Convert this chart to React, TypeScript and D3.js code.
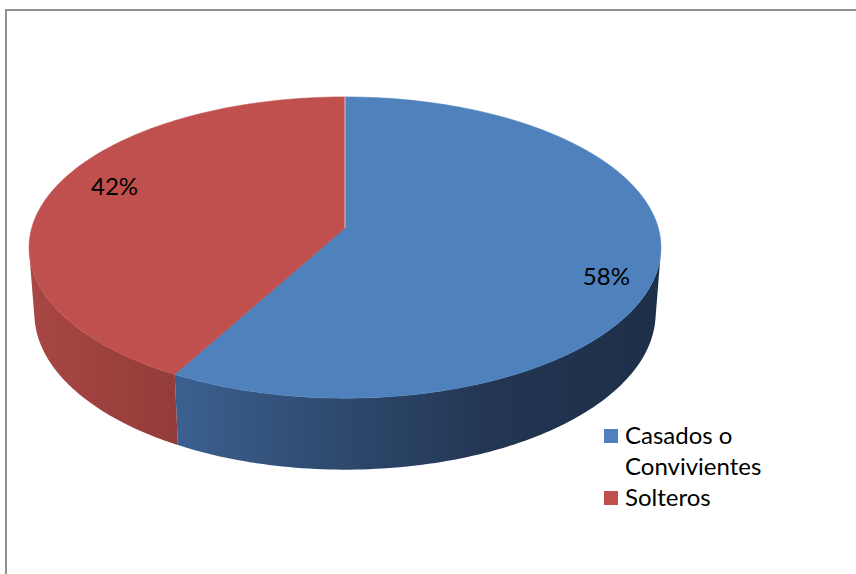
import React, { useRef, useEffect } from "react";
import * as d3 from "d3";

const categories = ["Casados o Convivientes", "Solteros"];
const values = [58, 42];
const labels = ["58%", "42%"];
const legendLines = [["Casados o", "Convivientes"], ["Solteros"]];

const topColors = ["#4F81BD", "#C0504D"];
// side shading stops (screen x -> colour), Excel-like dark rim
const sideStops = [
  [[176, "#3B6090"], [350, "#2D486C"], [500, "#223551"], [661, "#1E2F48"]],
  [[29, "#A84744"], [176, "#933C39"]],
];

const App = () => {
  const svgRef = useRef<SVGSVGElement>(null);

  useEffect(() => {
    const svg = d3.select(svgRef.current);
    svg.selectAll("*").remove();

    const width = 856;
    const height = 574;
    svg.attr("width", width).attr("height", height);

    // perspective camera for the tilted disc
    const cx = 345, cy = 228;
    const F = 2127, D = 6.79;
    const tilt = Math.asin(0.4727);
    const s = Math.sin(tilt), c = Math.cos(tilt);
    const H = 0.24;

    const project = (u: number, v: number, h: number): [number, number] => {
      const yc = h * c + v * s;
      const zc = D + v * c - h * s;
      return [cx + (F * u) / zc, cy - (F * yc) / zc];
    };
    const rim = (a: number, h: number, r = 1) => project(r * Math.sin(a), r * Math.cos(a), h);

    const pie = d3.pie<number>().sort(null).startAngle(0).endAngle(2 * Math.PI);
    const arcs = pie(values);

    const defs = svg.append("defs");
    sideStops.forEach((stops, i) => {
      const g = defs.append("linearGradient")
        .attr("id", `side${i}`)
        .attr("gradientUnits", "userSpaceOnUse")
        .attr("x1", stops[0][0]).attr("y1", 0)
        .attr("x2", stops[stops.length - 1][0]).attr("y2", 0);
      const x0 = stops[0][0] as number;
      const x1 = stops[stops.length - 1][0] as number;
      stops.forEach(([x, col]) => {
        g.append("stop")
          .attr("offset", ((x as number) - x0) / (x1 - x0))
          .attr("stop-color", col as string);
      });
    });

    const line = d3.line();

    // visible part of the rim: outward normal facing the camera
    const limit = Math.acos(-1 / (D * c));
    const visLo = limit, visHi = 2 * Math.PI - limit;

    const sides = arcs
      .map((d, i) => ({ i, a0: Math.max(d.startAngle, visLo), a1: Math.min(d.endAngle, visHi) }))
      .filter((d) => d.a1 > d.a0);

    svg.append("g")
      .selectAll("path")
      .data(sides)
      .enter()
      .append("path")
      .attr("d", (d) => {
        const n = 100;
        const topPts: [number, number][] = [];
        const botPts: [number, number][] = [];
        for (let k = 0; k <= n; k++) {
          const a = d.a0 + ((d.a1 - d.a0) * k) / n;
          topPts.push(rim(a, 0));
          botPts.push(rim(a, -H));
        }
        return line(topPts.concat(botPts.reverse())) + "Z";
      })
      .attr("fill", (d) => `url(#side${d.i})`);

    // top faces
    svg.append("g")
      .selectAll("path")
      .data(arcs)
      .enter()
      .append("path")
      .attr("d", (d) => {
        const pts: [number, number][] = [project(0, 0, 0)];
        const n = 120;
        for (let k = 0; k <= n; k++) {
          pts.push(rim(d.startAngle + ((d.endAngle - d.startAngle) * k) / n, 0));
        }
        return line(pts) + "Z";
      })
      .attr("fill", (d, i) => topColors[i])
      .attr("stroke", (d, i) => topColors[i])
      .attr("stroke-width", 0.6);

    // separating edge from the apex to the back
    const back = rim(0, 0);
    const apex = project(0, 0, 0);
    svg.append("line")
      .attr("x1", apex[0]).attr("y1", apex[1])
      .attr("x2", back[0]).attr("y2", back[1])
      .attr("stroke", "#d9e2ee")
      .attr("stroke-width", 0.8);

    // percentage labels
    svg.append("g")
      .selectAll("text")
      .data(arcs)
      .enter()
      .append("text")
      .attr("transform", (d) => {
        const mid = (d.startAngle + d.endAngle) / 2;
        const [x, y] = rim(mid, 0, 0.81);
        return `translate(${x + 9}, ${y - Math.cos(mid) * 60 + 3})`;
      })
      .attr("text-anchor", "middle")
      .attr("dy", "0.35em")
      .attr("font-family", "Lato, 'Open Sans', sans-serif")
      .attr("font-size", "24px")
      .attr("fill", "#000")
      .text((d, i) => labels[i]);

    // legend
    const legend = svg.append("g").attr("transform", "translate(604, 429)");
    let row = 0;
    categories.forEach((cat, i) => {
      const item = legend.append("g").attr("transform", `translate(0, ${row * 31})`);
      item.append("rect")
        .attr("width", 14).attr("height", 14)
        .attr("fill", topColors[i]);
      legendLines[i].forEach((txt, j) => {
        item.append("text")
          .attr("x", 21)
          .attr("y", 15 + j * 31)
          .attr("font-family", "Lato, 'Open Sans', sans-serif")
          .attr("font-size", "24px")
          .attr("fill", "#000")
          .text(txt);
      });
      row += legendLines[i].length;
    });

    // chart frame
    svg.append("rect")
      .attr("x", 6).attr("y", 10)
      .attr("width", 900).attr("height", 600)
      .attr("fill", "none")
      .attr("stroke", "#8f8f8f")
      .attr("stroke-width", 2);
  }, []);

  return (
    <svg ref={svgRef} style={{ position: "absolute", left: 0, top: 0, background: "#fff" }}></svg>
  );
};

export default App;
